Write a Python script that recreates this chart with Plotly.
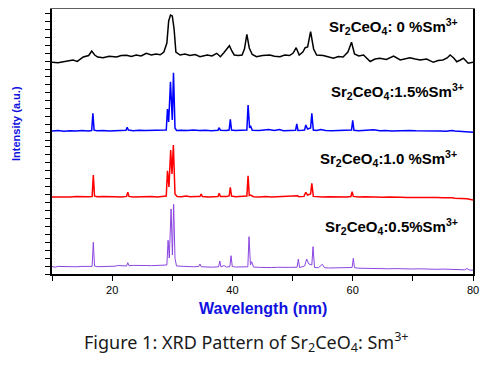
import plotly.graph_objects as go
from plotly.subplots import make_subplots

# ---------------- data (2-theta in degrees, intensity in a.u.) ----------------
black_x = [10, 11, 11.9, 12.7, 13.5, 14.2, 15.2, 16.1, 16.6, 17.1,
           17.6, 18.5, 19.5, 20.75, 21.5, 22.4, 23.2, 24.0, 24.8, 25.7,
           26.5, 27.3, 28.0, 28.6, 29.1, 29.4, 29.7, 30.0, 30.3, 30.6,
           31.3, 32.1, 32.95, 33.8, 34.6, 35.8, 36.6, 37.4, 38.0, 38.6,
           39.1, 39.5, 39.9, 40.3, 41.0, 41.6, 42.0, 42.4, 42.8, 43.3,
           44.0, 45.0, 46.2, 47.0, 47.9, 48.7, 49.5, 50.1, 50.6, 51.1,
           51.7, 52.1, 52.5, 53.0, 53.5, 54.0, 55.1, 56.0, 56.8, 57.6,
           58.4, 59.2, 59.8, 60.3, 61.0, 61.8, 62.4, 62.9, 63.7, 64.5,
           65.6, 66.8, 67.9, 68.7, 69.5, 70.4, 71.2, 72.3, 73.4, 74.2,
           75.0, 75.7, 76.2, 76.8, 77.3, 77.9, 78.4, 79.2, 80]
black_y = [6.7, 6.2, 7.3, 8.0, 9.0, 7.6, 12.0, 13.5, 18.0, 14.0,
           12.0, 11.3, 12.8, 12.0, 13.5, 13.8, 12.5, 14.0, 13.0, 15.7,
           14.0, 15.0, 14.2, 17.0, 26.0, 48.0, 54.0, 53.0, 40.0, 17.0,
           14.0, 15.0, 13.5, 14.5, 12.3, 14.0, 13.0, 15.7, 12.3, 16.5,
           20.0, 23.3, 18.0, 14.0, 13.5, 14.0, 20.0, 34.7, 21.0, 14.5,
           12.3, 13.5, 14.0, 12.8, 12.3, 14.0, 13.5, 16.0, 21.3, 14.0,
           17.0, 21.3, 22.0, 37.3, 20.0, 14.0, 13.5, 12.0, 10.7, 12.5,
           12.0, 17.0, 26.7, 15.0, 13.0, 14.0, 10.0, 7.5, 10.0, 10.7,
           9.5, 13.0, 9.0, 10.5, 11.3, 10.0, 9.0, 10.0, 6.7, 8.5,
           9.0, 11.0, 14.0, 11.0, 7.3, 9.0, 10.7, 5.7, 6.7]

blue_x = [10, 11, 12, 13, 14, 15, 16, 16.6, 16.8, 17.0,
          17.5, 18.5, 19.5, 20.5, 21.5, 22.3, 22.5, 22.7, 23.5, 24.5,
          25.5, 26.5, 27.5, 28.5, 29.0, 29.2, 29.4, 29.7, 30.0, 30.2,
          30.45, 30.7, 31.5, 32.5, 33.5, 34.5, 35.5, 36.5, 37.6, 37.8,
          38.0, 39.0, 39.45, 39.65, 39.85, 40.5, 41.5, 42.4, 42.6, 42.85,
          43.0, 43.3, 44.5, 45.5, 46.0, 47.0, 47.8, 48.5, 49.5, 50.5,
          50.7, 50.9, 51.6, 52.0, 52.2, 52.5, 53.0, 53.2, 53.45, 54.0,
          54.7, 55.5, 56.5, 57.5, 58.5, 59.8, 60.0, 60.2, 61.0, 62.0,
          63.5, 64.5, 65.5, 66.5, 67.5, 68.5, 69.5, 70.5, 71.5, 72.5,
          73.5, 74.5, 75.5, 76.5, 77.0, 78.0, 79.0, 80]
blue_y = [9.0, 9.5, 8.8, 9.3, 9.0, 9.4, 9.0, 9.5, 26.7, 9.8,
          9.2, 9.6, 9.0, 9.5, 9.3, 9.8, 12.7, 10.0, 9.3, 9.8,
          9.5, 9.7, 9.4, 9.8, 10.0, 31.0, 18.0, 58.3, 20.0, 67.3,
          12.0, 9.5, 9.8, 9.4, 10.0, 9.5, 9.8, 9.3, 9.8, 12.3,
          9.7, 9.5, 10.0, 20.7, 10.0, 9.4, 9.6, 10.0, 35.0, 12.0,
          14.3, 9.8, 9.4, 10.0, 10.5, 9.5, 10.5, 9.3, 9.6, 9.8,
          16.0, 9.6, 9.8, 10.0, 15.0, 11.0, 12.0, 26.7, 10.0, 9.5,
          10.5, 9.6, 9.3, 9.5, 9.6, 10.0, 19.7, 9.8, 9.3, 9.6,
          10.2, 9.2, 9.6, 9.0, 9.4, 9.1, 9.5, 9.2, 9.3, 8.8,
          9.0, 8.9, 8.7, 9.6, 9.0, 8.6, 8.8, 7.7]

red_x = [10, 11, 12, 13, 14, 15, 16, 16.67, 16.87, 17.07,
         17.5, 18.5, 19.5, 20.5, 21.5, 22.4, 22.6, 22.8, 23.5, 24.5,
         25.5, 26.5, 27.5, 28.5, 29.0, 29.2, 29.45, 29.73, 29.95, 30.18,
         30.45, 30.8, 31.5, 32.3, 33.0, 34.0, 34.6, 34.8, 35.0, 36.0,
         37.0, 37.6, 37.8, 38.0, 39.0, 39.45, 39.65, 39.85, 40.5, 41.5,
         42.4, 42.6, 42.8, 43.0, 43.5, 44.5, 45.5, 46.5, 47.5, 48.5,
         49.5, 50.65, 50.85, 51.05, 51.9, 52.2, 52.5, 53.0, 53.2, 53.45,
         54.0, 55.0, 56.0, 57.0, 58.0, 59.0, 59.7, 59.9, 60.1, 61.0,
         62.0, 63.0, 64.0, 65.0, 66.0, 67.0, 68.0, 69.0, 70.0, 71.0,
         72.0, 73.0, 74.0, 75.0, 76.0, 76.5, 77.0, 78.0, 79.0, 80]
red_y = [5.0, 4.8, 5.2, 5.0, 5.4, 5.0, 5.2, 5.5, 27.0, 6.0,
         5.2, 5.4, 5.0, 5.3, 5.1, 5.6, 9.7, 5.6, 5.0, 5.3,
         5.2, 5.4, 5.1, 5.5, 6.0, 31.3, 15.0, 52.0, 28.0, 57.0,
         8.0, 5.5, 5.2, 6.0, 5.2, 5.4, 5.5, 8.0, 5.4, 5.0,
         5.3, 5.5, 8.7, 5.5, 5.4, 6.0, 14.7, 6.0, 5.2, 5.3,
         6.0, 26.3, 6.5, 7.0, 5.3, 5.0, 5.4, 5.0, 5.3, 5.1,
         5.2, 5.5, 6.3, 5.3, 5.6, 9.7, 7.0, 8.0, 18.7, 5.6,
         5.2, 5.0, 5.3, 5.0, 5.2, 5.0, 5.5, 10.3, 5.6, 5.0,
         5.2, 4.8, 5.0, 4.7, 4.9, 4.5, 4.8, 4.5, 4.6, 4.3,
         4.6, 4.2, 4.4, 4.3, 4.6, 4.2, 3.8, 3.5, 3.2, 2.0]

purple_x = [10, 10.5, 11, 12, 13, 14, 15, 16, 16.67, 16.87,
            17.07, 17.5, 18.5, 19.5, 20.5, 21.0, 21.5, 22.4, 22.6, 22.8,
            23.5, 24.5, 25.5, 26.5, 27.5, 28.5, 29.1, 29.3, 29.5, 29.8,
            30.02, 30.23, 30.45, 30.7, 31.5, 32.5, 33.5, 34.4, 34.6, 34.8,
            35.5, 36.5, 37.7, 37.9, 38.1, 38.6, 39.0, 39.57, 39.77, 39.97,
            40.5, 41.5, 42.56, 42.76, 43.0, 43.2, 43.5, 44.5, 45.5, 46.5,
            47.5, 48.5, 49.5, 50.76, 50.96, 51.16, 52.0, 52.35, 52.7, 53.2,
            53.4, 53.65, 54.3, 54.96, 55.3, 56.0, 57.0, 58.0, 59.0, 59.9,
            60.1, 60.3, 61.0, 62.0, 63.0, 64.0, 65.0, 66.0, 67.0, 68.0,
            69.0, 70.0, 71.0, 72.0, 73.0, 74.0, 75.0, 76.0, 77.0, 78.0,
            78.6, 79.0, 79.4, 80]
purple_y = [7.5, 6.8, 7.6, 7.3, 7.5, 7.2, 7.6, 7.4, 7.6, 31.7,
            8.0, 7.3, 7.6, 7.2, 7.8, 8.5, 8.2, 8.0, 11.3, 8.3,
            8.6, 8.2, 8.5, 8.3, 8.7, 8.4, 9.0, 33.7, 16.0, 65.0,
            19.0, 69.7, 15.7, 8.0, 7.6, 7.4, 7.2, 7.5, 10.0, 7.3,
            7.0, 6.8, 7.2, 13.0, 7.0, 8.5, 7.0, 7.3, 18.3, 7.5,
            7.0, 6.8, 7.2, 37.3, 9.0, 12.3, 7.0, 6.6, 6.9, 6.5,
            6.7, 6.3, 6.6, 6.8, 15.0, 6.5, 8.0, 15.0, 10.0, 9.0,
            27.3, 6.5, 6.3, 9.7, 6.3, 6.0, 6.2, 5.8, 6.0, 6.5,
            15.7, 6.3, 5.8, 5.6, 5.8, 5.5, 5.6, 5.2, 5.4, 5.1,
            5.3, 5.0, 5.2, 4.8, 5.0, 4.7, 4.9, 4.6, 4.8, 4.4,
            4.2, 5.5, 4.0, 3.8]

series_labels = [
    "<b>Sr<sub>2</sub>CeO<sub>4</sub>: 0 %Sm<sup>3+</sup></b>",
    "<b>Sr<sub>2</sub>CeO<sub>4</sub>:1.5%Sm<sup>3+</sup></b>",
    "<b>Sr<sub>2</sub>CeO<sub>4</sub>:1.0 %Sm<sup>3+</sup></b>",
    "<b>Sr<sub>2</sub>CeO<sub>4</sub>:0.5%Sm<sup>3+</sup></b>",
]
x_tick_vals = [10, 20, 30, 40, 50, 60, 70, 80]
x_tick_text = ["", "20", "", "40", "", "60", "", "80"]
x_title = "<b>Wavelength (nm)</b>"
y_title = "<b>Intensity (a.u.)</b>"
caption = "Figure 1: XRD Pattern of Sr<sub>2</sub>CeO<sub>4</sub>: Sm<sup>3+</sup>"

# ---------------- figure ----------------
series = [(black_x, black_y, "#000000", 1.5),
          (blue_x, blue_y, "#0000FF", 1.5),
          (red_x, red_y, "#FF0000", 1.5),
          (purple_x, purple_y, "#8B45E0", 1.0)]

fig = make_subplots(rows=4, cols=1, shared_xaxes=True, vertical_spacing=0)
for i, (xs, ys, col, w) in enumerate(series):
    fig.add_trace(go.Scatter(x=xs, y=ys, mode="lines",
                             line=dict(color=col, width=w), showlegend=False),
                  row=i + 1, col=1)

H = 265.0
panel_px = [(9, 69), (69, 140), (140, 202), (202, 274)]
for i, (top, bot) in enumerate(panel_px):
    dom = [(274 - bot) / H, (274 - top) / H]
    key = "yaxis" if i == 0 else f"yaxis{i+1}"
    fig.layout[key].update(domain=dom, range=[0, bot - top],
                           showticklabels=False, ticks="outside", ticklen=5,
                           tickwidth=1, tickcolor="black", dtick=8,
                           showline=True, linecolor="black", linewidth=1.5,
                           mirror=True,
                           showgrid=False, zeroline=False)

for i in range(1, 5):
    key = "xaxis" if i == 1 else f"xaxis{i}"
    fig.layout[key].update(range=[10, 80], showgrid=False, zeroline=False)
    if i < 4:
        fig.layout[key].update(showticklabels=False, ticks="", showline=False)
# top edge of the frame: top panel's x axis line drawn on its upper side
fig.layout["xaxis"].update(side="top", showline=True, linecolor="#606060",
                           linewidth=2.5)
fig.layout["xaxis4"].update(showline=True, linecolor="black", linewidth=1.5,
                            ticks="outside", ticklen=5, tickcolor="black",
                            tickvals=x_tick_vals, ticktext=x_tick_text,
                            tickfont=dict(family="Liberation Sans, Arial", size=11,
                                          color="black"))

lab_pos = [(460, 27), (466, 91), (459, 158), (460, 226)]
for text, (xr, yc) in zip(series_labels, lab_pos):
    fig.add_annotation(text=text, xref="paper", yref="paper",
                       x=(xr - 52) / 421.0, y=(274 - yc) / H,
                       xanchor="right", yanchor="middle", showarrow=False,
                       font=dict(family="Liberation Sans, Arial", size=15,
                                 color="black"))

fig.add_annotation(text=x_title, xref="paper", yref="paper", x=0.5,
                   y=(274 - 308) / H, xanchor="center", yanchor="middle",
                   showarrow=False,
                   font=dict(family="Liberation Sans, Arial", size=16, color="#1010E0"))
fig.add_annotation(text=y_title, xref="paper", yref="paper",
                   x=(16 - 52) / 421.0, y=(274 - 124) / H, textangle=-90,
                   xanchor="center", yanchor="middle", showarrow=False,
                   font=dict(family="Liberation Sans, Arial", size=11, color="#1010E0"))
fig.add_annotation(text=caption, xref="paper", yref="paper",
                   x=(246 - 52) / 421.0, y=(274 - 342) / H,
                   xanchor="center", yanchor="middle", showarrow=False,
                   font=dict(family="Noto Sans", size=18, color="#1a1a1a"))

# the page body adds an 8 px offset, so the figure is sized to fit the window
fig.update_layout(width=489, height=362,
                  margin=dict(l=44, r=24, t=1, b=96, pad=0),
                  paper_bgcolor="white", plot_bgcolor="white")

fig.write_html("out.html")
